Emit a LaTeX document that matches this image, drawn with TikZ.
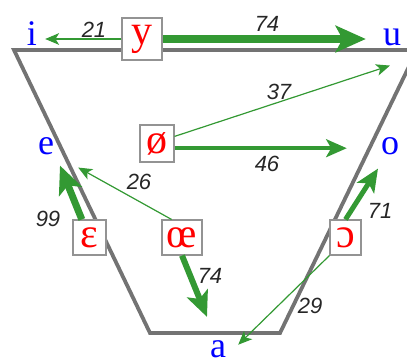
\documentclass[tikz,border=0pt]{standalone}
\usepackage{fontspec}
\setmainfont{Liberation Serif}
\newfontfamily\numfont{Liberation Sans}
\usetikzlibrary{arrows.meta}
\definecolor{arrowgreen}{RGB}{51,153,51}
\definecolor{framegray}{RGB}{115,115,115}

\begin{document}
\begin{tikzpicture}[
  x=1pt, y=-1pt,
  corner/.style={inner sep=0pt, anchor=base, text=blue,
    font=\fontsize{36}{36}\selectfont},
  vowel/.style={rectangle, draw=gray!85, fill=white, text=red, line width=1.1pt,
    inner sep=1pt, minimum width=33pt, minimum height=35pt,
    font=\fontsize{42}{42}\selectfont},
  share/.style={inner sep=0pt, text=black!85,
    font=\numfont\itshape\fontsize{22}{22}\selectfont},
  chart/.style={draw=framegray, line width=3.8pt},
  flow/.style={draw=arrowgreen, line width=#1,
    -{Stealth[length=11pt 2.4, width=9pt 2.2, inset=3pt 0.5]}}
]
  \useasboundingbox (0,0) rectangle (407,362);

  % Vowel trapezoid.
  \draw[chart] (14,50) -- (150,333) -- (280,333) -- (417,50) -- cycle;

  % Corner vowels.
  \node[corner] (i) at (32,45) {i};
  \node[corner] (u) at (392,45) {u};
  \node[corner] (e) at (46,154) {e};
  \node[corner] (o) at (390,154) {o};
  \node[corner] (a) at (218,357) {a};

  % Rounded and open vowels.
  \node[vowel, minimum width=40pt, minimum height=42pt] (y) at (142,39) {y};
  \node[vowel, minimum width=34pt, minimum height=37pt] (slo) at (157,143.5) {ø};
  \node[vowel] (eps) at (89.5,237.5) {ɛ};
  \node[vowel, minimum width=40pt] (oe) at (182,237.5) {œ};
  \node[vowel, minimum width=31pt] (opn) at (345.5,237.5) {ɔ};

  % Shifts.
  \draw[flow=1.2pt, shorten >=8pt] (y.west) -- (y.west -| i.east);
  \draw[flow=8pt, shorten >=17pt] (y.east) -- (y.east -| u.west);
  \draw[flow=1.2pt] (slo.22) -- ([shift={(-2,20)}]u.south);
  \draw[flow=4pt, shorten >=34pt] (slo.-15) -- (slo.-15 -| o.west);
  \draw[flow=1.2pt] (oe.120) -- ([shift={(24,13)}]e.south east);
  \draw[flow=7pt] (eps.113) -- ([shift={(14,11)}]e.south);
  \draw[flow=6pt] (oe.south) -- ([shift={(-11,-23)}]a.north);
  \draw[flow=5pt] (opn.north) -- ([shift={(-12,14)}]o.south);
  \draw[flow=1.2pt] (opn.south west) -- ([shift={(12,-4)}]a.east);

  % Counts.
  \node[share] (n21) at (94,30) {21};
  \node[share] (n74a) at (267,24) {74};
  \node[share] (n37) at (279,92) {37};
  \node[share] (n46) at (267,164) {46};
  \node[share] (n26) at (139,182) {26};
  \node[share] (n99) at (48,219) {99};
  \node[share] (n71) at (380,211) {71};
  \node[share] (n74b) at (210,276) {74};
  \node[share] (n29) at (310,306) {29};
\end{tikzpicture}
\end{document}
